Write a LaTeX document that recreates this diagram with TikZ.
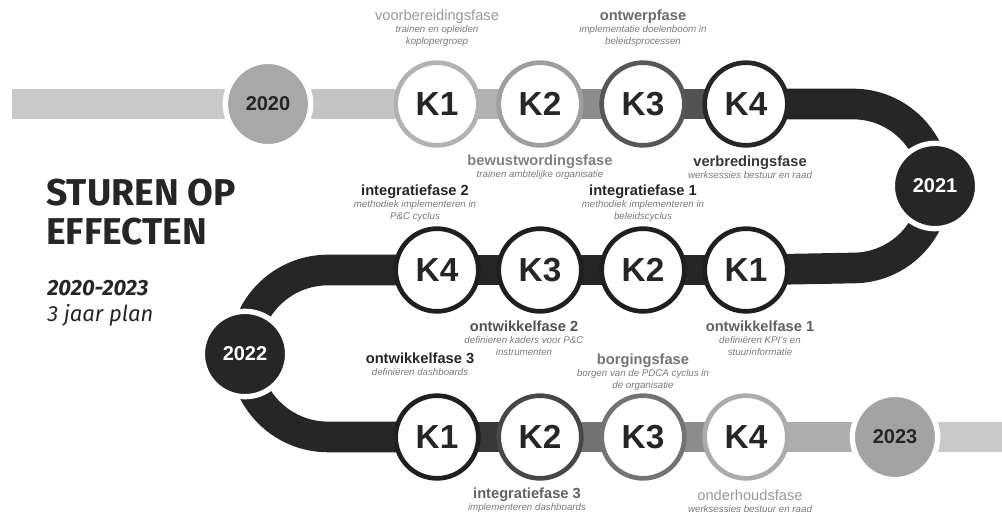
\documentclass[tikz,border=0pt]{standalone}
\usepackage{fontspec}
\setmainfont{Liberation Sans}
\newfontfamily\headfont{Fira Sans}
\usetikzlibrary{backgrounds}

\definecolor{inkdark}{HTML}{262626}
\definecolor{subgray}{HTML}{7A7A7A}

\begin{document}
\begin{tikzpicture}[x=0.75pt,y=-0.75pt,
  band/.style={line width=23pt},
  kq/.style={draw, circle, fill=white, line width=3.5pt, minimum size=62pt, inner sep=0pt, text=inkdark, font=\fontsize{25}{25}\selectfont\bfseries},
  yr/.style={circle, draw=white, line width=4pt, minimum size=64pt, inner sep=0pt, font=\fontsize{15}{15}\selectfont\bfseries},
  fase/.style={anchor=north, align=center, inner sep=0pt, text=subgray, font=\fontsize{7.3}{8.8}\selectfont\itshape}]
\useasboundingbox (0,0) rectangle (1002,518);

% jaren
\node[yr, fill=black!34, text=inkdark] (y20) at (268,104) {2020};
\node[yr, fill=inkdark, text=white] (y21) at (935,186) {2021};
\node[yr, fill=inkdark, text=white] (y22) at (245,354) {2022};
\node[yr, fill=black!36, text=inkdark] (y23) at (895,437) {2023};
\coordinate (begin) at (12,104);
\coordinate (eind) at (1002,437);

% kwartalen
\node[kq, draw=black!30] (k11) at (437,104) {K1};
\node[kq, draw=black!38] (k12) at (540,104) {K2};
\node[kq, draw=black!66] (k13) at (643,104) {K3};
\node[kq, draw=black!85] (k14) at (746,104) {K4};
\node[kq, draw=black!88] (k21) at (746,270) {K1};
\node[kq, draw=black!88] (k22) at (643,270) {K2};
\node[kq, draw=black!88] (k23) at (540,270) {K3};
\node[kq, draw=black!88] (k24) at (437,270) {K4};
\node[kq, draw=black!88] (k31) at (437,437) {K1};
\node[kq, draw=black!72] (k32) at (540,437) {K2};
\node[kq, draw=black!55] (k33) at (643,437) {K3};
\node[kq, draw=black!33] (k34) at (746,437) {K4};

\begin{scope}[on background layer]
\draw[band, black!21] (begin) -- (y20.center);
\draw[band, black!23] (y20.center) -- (k11.center);
\draw[band, black!30] (k11.center) -- (k12.center);
\draw[band, black!45] (k12.center) -- (k13.center);
\draw[band, black!68] (k13.center) -- (k14.center);
\draw[band, inkdark] (k14.center) -- ++(107,0) arc[start angle=90, end angle=-90, radius=61.5pt] -- (k21.center);
\foreach \a/\b in {k21/k22, k22/k23, k23/k24}{\draw[band, inkdark] (\a.center) -- (\b.center);}
\draw[band, inkdark] (k24.center) -- ++(-109,0) arc[start angle=90, end angle=270, radius=62.6pt] -- (k31.center);
\draw[band, black!78] (k31.center) -- (k32.center);
\draw[band, black!55] (k32.center) -- (k33.center);
\draw[band, black!45] (k33.center) -- (k34.center);
\draw[band, black!32] (k34.center) -- (y23.center);
\draw[band, black!21] (y23.center) -- (eind);
\end{scope}

% fasen
\node[fase] (vb) at (437,10) {{\upshape\fontsize{11}{13}\selectfont\color{black!40}voorbereidingsfase}\\trainen en opleiden\\koplopergroep};
\node[fase] (ow) at (643,10) {{\upshape\bfseries\fontsize{11}{13}\selectfont\color{black!58}ontwerpfase}\\implementatie doelenboom in\\beleidsprocessen};
\node[fase] (bw) at (540,155) {{\upshape\bfseries\fontsize{11}{13}\selectfont\color{black!50}bewustwordingsfase}\\trainen ambtelijke organisatie};
\node[fase] (vbr) at (750,156) {{\upshape\bfseries\fontsize{11}{13}\selectfont\color{black!78}verbredingsfase}\\werksessies bestuur en raad};
\node[fase] (ig2) at (415,185) {{\upshape\bfseries\fontsize{11}{13}\selectfont\color{inkdark}integratiefase 2}\\methodiek implementeren in\\P\&C cyclus};
\node[fase] (ig1) at (643,185) {{\upshape\bfseries\fontsize{11}{13}\selectfont\color{inkdark}integratiefase 1}\\methodiek implementeren in\\beleidscyclus};
\node[fase] (ok2) at (524,321) {{\upshape\bfseries\fontsize{11}{13}\selectfont\color{black!68}ontwikkelfase 2}\\definieren kaders voor P\&C\\instrumenten};
\node[fase] (ok1) at (760,321) {{\upshape\bfseries\fontsize{11}{13}\selectfont\color{black!62}ontwikkelfase 1}\\definiëren KPI's en\\stuurinformatie};
\node[fase] (ok3) at (420,353) {{\upshape\bfseries\fontsize{11}{13}\selectfont\color{inkdark}ontwikkelfase 3}\\definiëren dashboards};
\node[fase] (bg) at (643,354) {{\upshape\bfseries\fontsize{11}{13}\selectfont\color{black!55}borgingsfase}\\borgen van de PDCA cyclus in\\de organisatie};
\node[fase] (ig3) at (527,488) {{\upshape\bfseries\fontsize{11}{13}\selectfont\color{black!62}integratiefase 3}\\implementeren dashboards};
\node[fase] (oh) at (750,490) {{\upshape\fontsize{11}{13}\selectfont\color{black!40}onderhoudsfase}\\werksessies bestuur en raad};

% titel
\node[anchor=north west, align=left, inner sep=0pt, text=inkdark, font=\headfont\bfseries\fontsize{28}{29}\selectfont] (titel) at (46,179) {STUREN OP\\EFFECTEN};
\node[anchor=north west, align=left, inner sep=0pt, text=inkdark, font=\headfont\itshape\fontsize{16.5}{19.5}\selectfont] (plan) at (47,280) {\bfseries 2020-2023\\3 jaar plan};
\end{tikzpicture}
\end{document}
